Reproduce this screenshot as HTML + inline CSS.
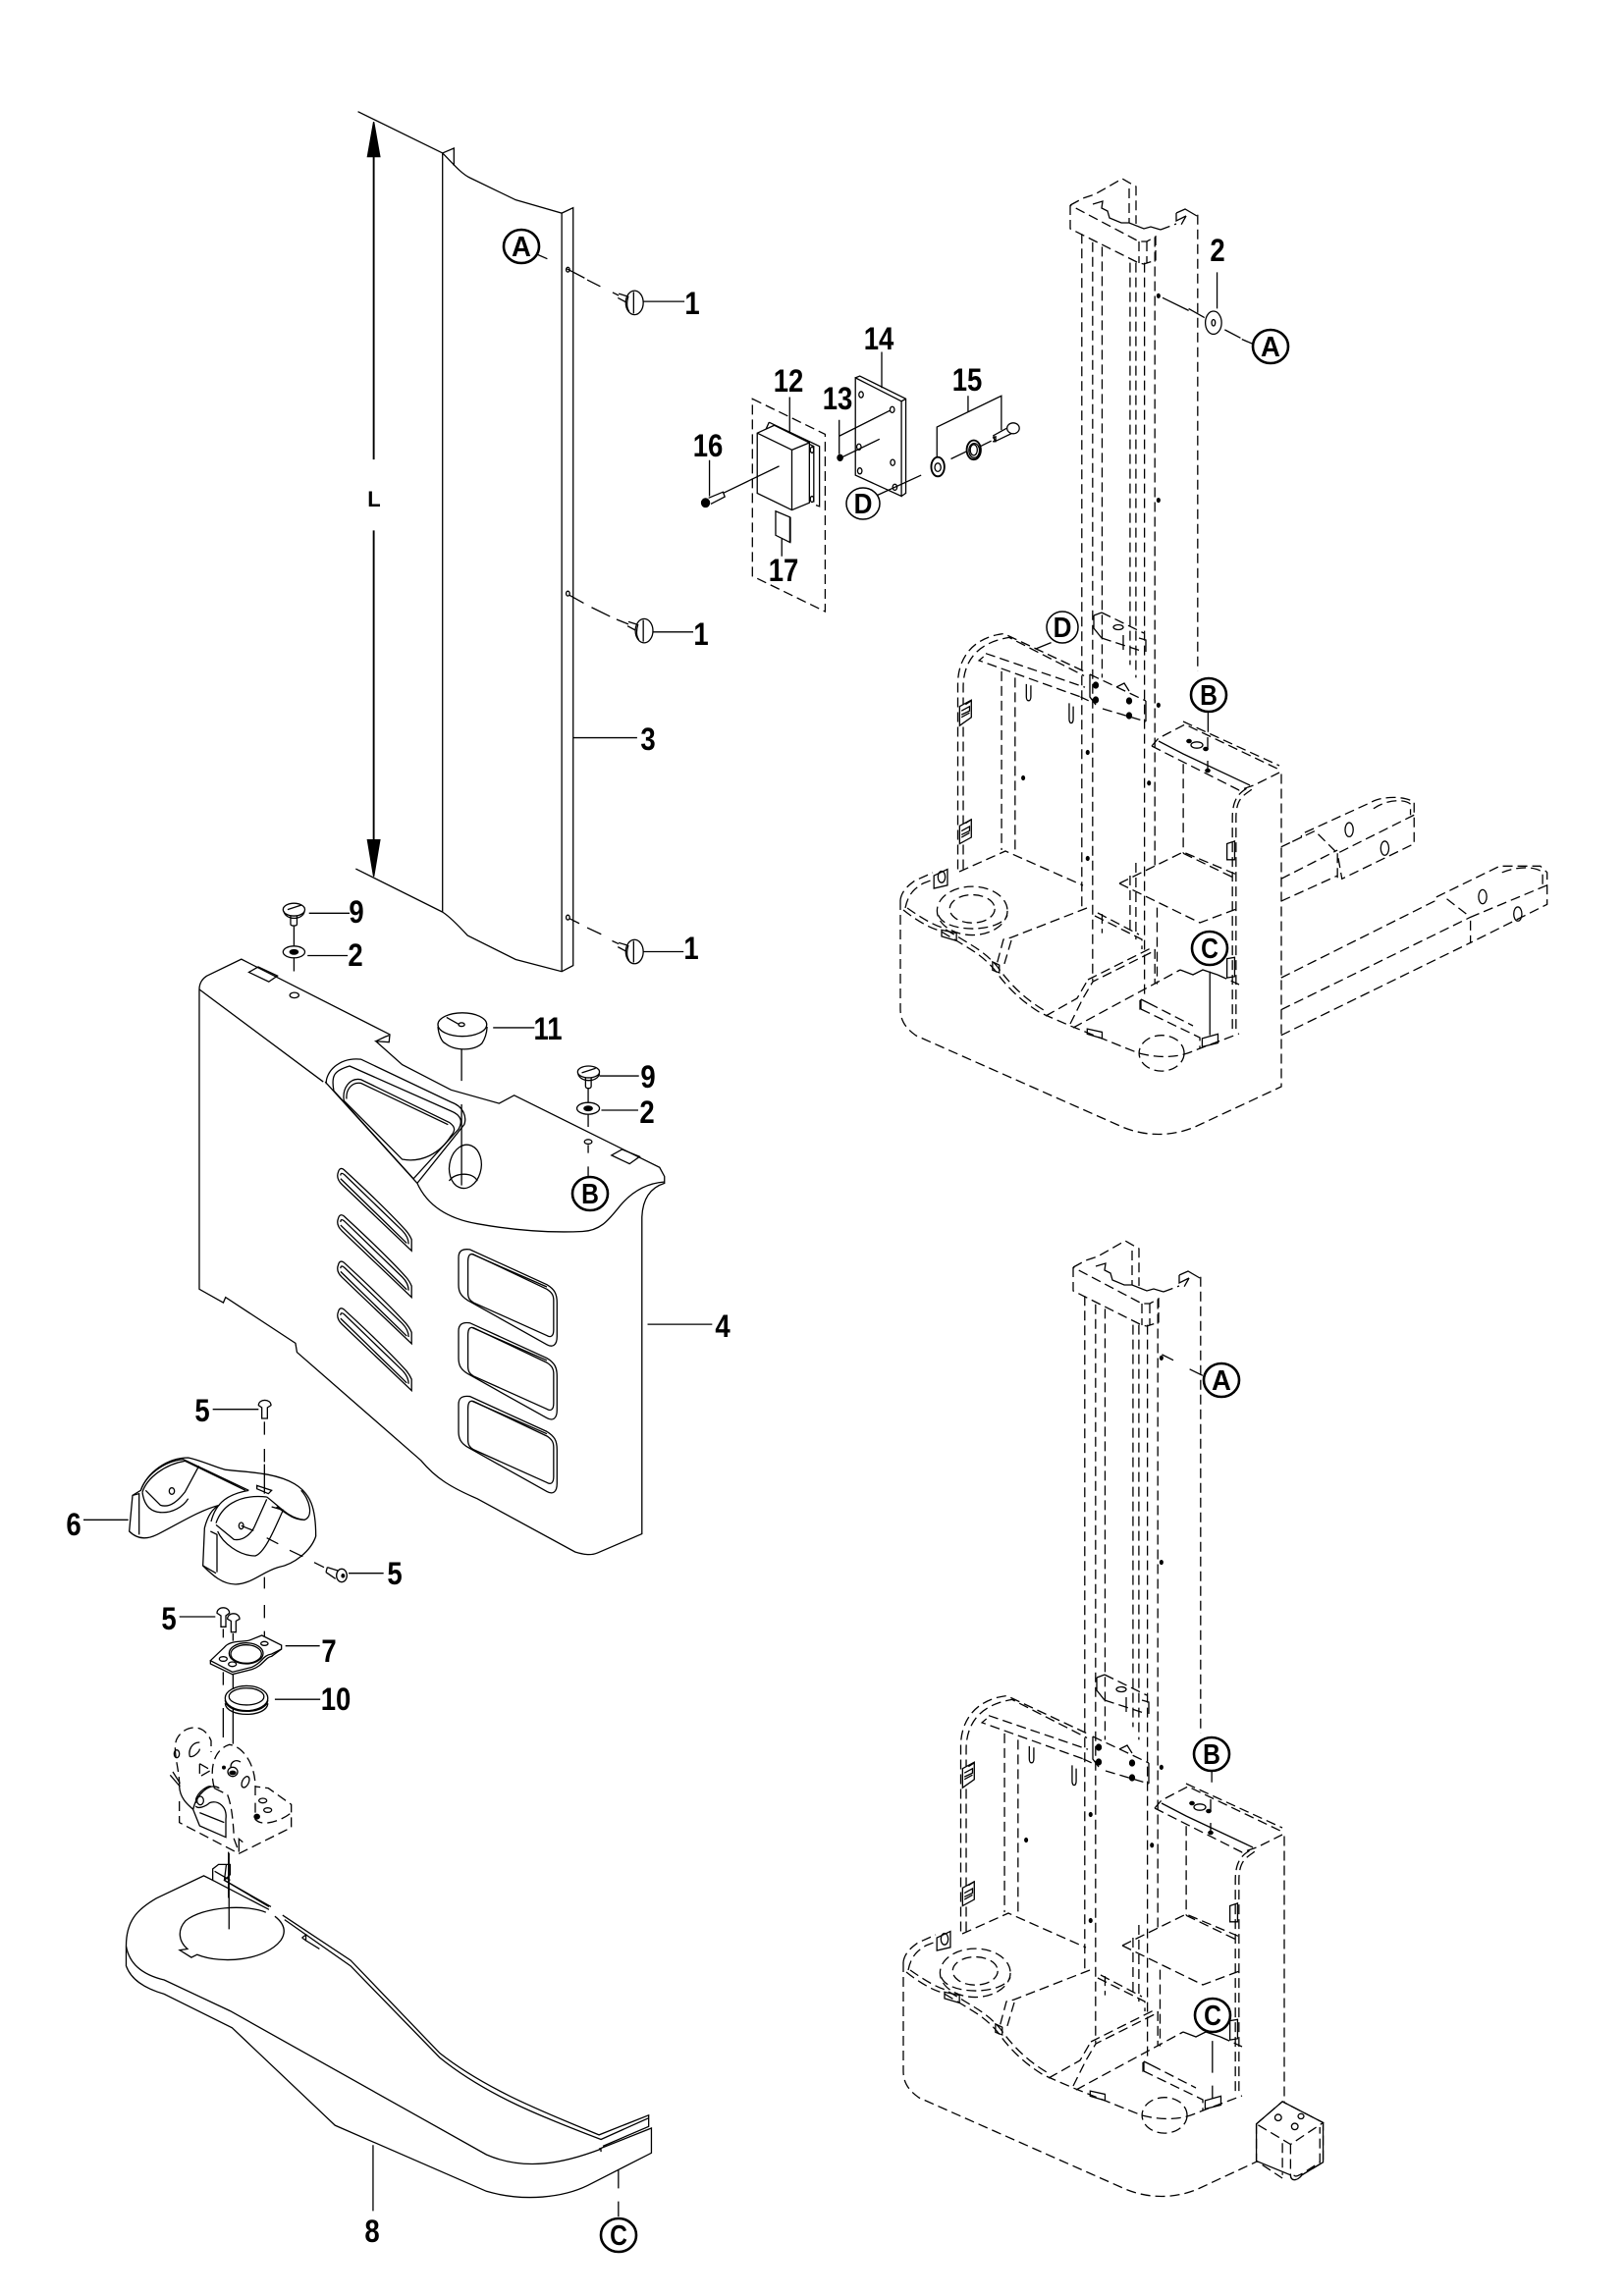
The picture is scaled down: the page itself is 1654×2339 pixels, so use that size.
<!DOCTYPE html>
<html><head><meta charset="utf-8"><style>
html,body{margin:0;padding:0;background:#fff}
svg{display:block}
path,line,ellipse,polygon{vector-effect:non-scaling-stroke;fill:none;stroke:#000;stroke-width:1.3}
.w{fill:#fff}
.k{fill:#000}
.d{stroke-dasharray:10 5}
.t{stroke-width:1.9}
text{font-family:"Liberation Sans",sans-serif;font-weight:bold;font-size:32px;text-anchor:middle;fill:#000}
.c{font-size:29px}
.e{stroke-width:2.6;fill:#fff}
.e2{stroke-width:1.5;fill:#fff}
</style></head><body>
<svg xmlns="http://www.w3.org/2000/svg" width="1654" height="2339" viewBox="0 0 1654 2339">
<defs>
<!-- parts read at page scale -->
<g id="truckP">
<path class="d" d="M1090 209L1103 202L1115 198L1143 182L1157 190V228M1150 192V227M1090 209V233L1160 268L1165 269L1177 265V241L1168 246H1160L1090 209M1160 246V268M1168 246V268"/>
<path d="M1113 208L1123 205L1122 212L1128 215L1130 222L1142 227H1150L1165 233L1172 231L1182 234M1198 217L1207 213L1219 220M1198 217V225L1208 220"/>
<path class="d" d="M1182 234L1198 228M1208 220L1203 229"/>
<!-- base -->
<path class="d" d="M917 917V1028C917 1040 923 1048 933 1055L1143 1148C1167 1158 1193 1158 1217 1148L1305 1107V785"/>
<path class="d" d="M917 917C918 908 925 902 932 897L950 889M922 925C925 910 932 905 940 900L958 893M977 888L1024 867L1103 902M1107 925L1030 955L1022 957L1015 983M1030 958L1022 985"/>
<path class="d" d="M920 927C930 935 945 945 957 948L977 960C990 968 1000 973 1013 988C1025 1005 1040 1020 1060 1032L1090 1045L1160 1073C1180 1078 1200 1078 1217 1070L1262 1053M924 925C934 932 949 942 960 945L980 957C993 965 1003 970 1016 985C1028 1002 1043 1017 1063 1029"/>
<path class="d" d="M1065 1035L1097 1017L1108 998M1090 1043L1103 1017L1113 1000L1177 968M1108 998L1172 966M1115 933L1163 957V967M1118 930L1160 952M1140 900L1205 868L1262 892M1140 900L1222 940L1262 925M1093 1047L1202 988"/>
<path d="M1202 988L1215 993L1225 988L1240 993"/><path class="d" d="M1240 993L1262 1003"/>
<path d="M1162 1018V1028M1162 1018L1170 1022"/><path class="d" d="M1162 1028L1222 1057V1068M1170 1022L1215 1045"/>
<!-- top plate -->
<path class="d" d="M1173 760L1180 752L1207 738L1305 785M1173 760L1262 805L1277 800L1303 787M1205 735L1303 780"/>
<path d="M1180 755L1205 768L1273 800"/>
<ellipse cx="1219" cy="759" rx="6" ry="3.2"/><ellipse class="k" cx="1228" cy="763" rx="2.2" ry="1.6"/><ellipse class="k" cx="1230" cy="785" rx="2.2" ry="1.6"/><ellipse class="k" cx="1211" cy="755" rx="2.2" ry="1.6"/>
<path d="M1230 751V763M1230 775V785"/>
<!-- carriage -->
<path d="M1114 627V640L1122 650M1144 647V662M1160 650L1167 652V664M1114 627L1122 624"/>
<path class="d" d="M1122 624L1165 645M1122 650L1162 663"/>
<ellipse cx="1139" cy="639" rx="5" ry="2.5"/>
<path d="M1110 687V710L1116 718M1167 714V735M1137 700L1145 696L1150 704"/>
<path class="d" d="M1110 687L1167 714M1123 722L1167 735"/>
<ellipse class="k" cx="1116" cy="698" rx="2.5" ry="3"/><ellipse class="k" cx="1116" cy="713" rx="2.5" ry="3"/><ellipse class="k" cx="1150" cy="714" rx="2.5" ry="3"/><ellipse class="k" cx="1150" cy="729" rx="2.5" ry="3"/>
</g>
<g id="truck">
<!-- mast verticals -->
<path class="d" d="M483 105V1160M507 118V1275M528 125V800M528 1170V1200M590 150V780M590 1110V1200M603 150V800M603 1090V1210M622 150V1300M645 110V1095M645 1225V1280M740 75V790"/>
<!-- mast dots -->
<ellipse class="k" cx="653" cy="202" rx="3" ry="3"/><ellipse class="k" cx="653" cy="522" rx="3" ry="3"/><ellipse class="k" cx="653" cy="843" rx="3" ry="3"/><ellipse class="k" cx="496" cy="917" rx="3" ry="3"/><ellipse class="k" cx="353" cy="957" rx="3" ry="3"/><ellipse class="k" cx="632" cy="965" rx="3" ry="3"/><ellipse class="k" cx="496" cy="1083" rx="3" ry="3"/>
<!-- back frame -->
<path class="d" d="M208 1100V810C208 770 240 737 310 731L488 790M220 1100V815C220 775 250 745 322 737L488 797"/>
<path class="d" d="M265 767L255 773L480 830M270 762L490 815M305 790V1070M335 800V1070"/>
<path d="M360 810V830C360 838 370 838 370 830V812M455 840V865C455 873 464 873 464 865V845M480 830L498 836"/>
<path class="w" d="M212 845L238 835V862L212 875Z"/><path d="M216 852L234 845V852L216 858M216 862L234 855M238 836L225 842"/>
<path class="w" d="M212 1032L238 1022V1050L212 1060Z"/><path d="M216 1040L234 1033V1040L216 1046M216 1050L234 1043M238 1022L225 1028"/>
<!-- right column -->
<path class="d" d="M708 935V1075M650 1160V1280M825 1350V1020C825 990 840 985 860 975M817 1350V1020C817 990 832 980 852 972"/>
<path class="d" d="M708 1075L825 1115"/>
<path d="M612 1305V1320"/>
<ellipse class="d" cx="240" cy="1165" rx="78" ry="38"/><ellipse class="d" cx="240" cy="1162" rx="50" ry="22"/><path class="d" d="M165 1172C180 1200 300 1200 318 1172"/>
<ellipse class="d" cx="660" cy="1388" rx="50" ry="28"/>
<path class="w" d="M155 1110L185 1100V1125L155 1130Z"/><ellipse cx="172" cy="1112" rx="8" ry="9"/>
<path d="M172 1195L205 1200V1212L172 1205ZM495 1350L528 1355V1365L495 1358ZM750 1365L785 1358V1372L750 1378Z"/>
<path d="M285 1245L300 1250V1262L285 1258ZM805 1060L822 1056V1085L805 1085ZM805 1240L822 1238V1268L805 1270Z"/>
</g>
</defs>

<!-- ============ ZOOM 1 : panel 3 + module ============ -->
<g transform="translate(340,80) scale(.4464,.6122)">
<path d="M55 55L248 124M50 1315L248 1387M248 124L274 116V145"/>
<path d="M248 124V1387M248 124C270 140 290 158 310 165L415 202L520 224L546 215V1476L520 1486L415 1466L305 1426C285 1410 265 1395 248 1387"/>
<path d="M520 224V1486"/>
<path class="t" d="M91 100V634M91 752V1300"/>
<polygon class="k" points="91,72 77,130 105,130"/><polygon class="k" points="91,1328 77,1267 105,1267"/>
<ellipse cx="534" cy="318" rx="4" ry="4"/><ellipse cx="534" cy="857" rx="4" ry="4"/><ellipse cx="534" cy="1396" rx="4" ry="4"/>
<path d="M465 293L487 300M530 316L572 332M578 335L608 346M636 356L650 361"/>
<path d="M538 860L570 873M588 880L630 895M645 900L672 908"/>
<path d="M538 1398L560 1406M578 1413L610 1424M635 1435L650 1440"/>
<g id="screw1"><path d="M650 358L668 362M648 365L666 372"/><ellipse class="w" cx="686" cy="373" rx="20" ry="20"/><path d="M684 355V391M672 362C668 372 668 382 674 388"/></g>
<use href="#screw1" x="22" y="546"/><use href="#screw1" y="1080"/>
<path d="M705 371H800M727 921H820M705 1453H798M546 1097H692"/>
<!-- module 12 -->
<polygon class="d" points="955,533 1121,592 1121,887 955,828"/>
<path d="M993 572L1108 612V712L1100 710M993 572L985 585M1000 578L1095 612V705"/>
<path class="w" d="M966 590L1005 577L1085 606V706L1045 718L966 690Z"/>
<path d="M966 590L1045 618V718M1045 618L1085 606"/>
<ellipse cx="1091" cy="618" rx="4" ry="5"/><ellipse cx="1091" cy="700" rx="4" ry="5"/>
<path d="M1040 530V590M1016 645L888 690"/>
<path d="M1008 720L1041 730V772L1008 760Z"/><path class="t" d="M1041 730V772"/>
<path d="M1022 765V795M857 635V695"/>
<path d="M855 698L888 688L892 696L860 708"/><ellipse class="k" cx="848" cy="706" rx="9" ry="7"/>
<!-- plate 14 -->
<path d="M1190 498L1295 537V695L1190 660ZM1190 498L1200 495L1305 533V690L1295 695M1295 537L1305 533"/>
<ellipse cx="1203" cy="526" rx="5" ry="5"/><ellipse cx="1274" cy="551" rx="5" ry="5"/><ellipse cx="1198" cy="613" rx="5" ry="5"/><ellipse cx="1275" cy="639" rx="5" ry="5"/><ellipse cx="1200" cy="653" rx="5" ry="5"/><ellipse cx="1280" cy="680" rx="5" ry="5"/>
<path d="M1250 455V515M1153 568V625M1153 595L1270 552M1160 630L1245 600M1235 695L1340 660"/>
<ellipse class="k" cx="1155" cy="631" rx="6" ry="5"/>
<ellipse class="t" cx="1378" cy="646" rx="15" ry="16"/><ellipse cx="1378" cy="647" rx="7" ry="7"/>
<path d="M1408 633L1445 620M1475 612L1500 603M1376 630V580L1523 528V585M1447 528V555"/>
<ellipse class="t" cx="1460" cy="618" rx="16" ry="16"/><ellipse cx="1460" cy="618" rx="8" ry="9"/><ellipse cx="1461" cy="619" rx="12" ry="12"/>
<path d="M1505 594L1545 578L1548 590L1508 604ZM1503 598L1510 596V604L1503 604"/><ellipse class="w" cx="1550" cy="582" rx="14" ry="9"/>
</g>

<!-- ============ ZOOM 2 : panel 4 ============ -->
<g transform="translate(180,900) scale(.3827,.4592)">
<path d="M60 235C60 220 70 210 80 205L172 168L567 335L565 352L530 350L600 402L730 458L858 488L898 470L1285 630L1298 650V665C1260 675 1240 700 1238 740V1443L1120 1485C1100 1492 1080 1488 1060 1483L800 1365C730 1340 690 1320 650 1280L320 1040L316 1020L130 918L124 930L60 900Z"/>
<path d="M60 235L390 440M565 337L555 340L530 350M398 445C395 420 430 385 490 390L730 485C765 495 772 520 765 535L640 665L395 440M640 665C670 720 730 745 800 755C900 770 1000 775 1080 772C1130 770 1150 745 1180 715C1210 685 1250 665 1298 662"/>
<path d="M418 460C410 425 420 415 460 405L730 505C760 515 760 530 750 545L630 655Z"/>
<path d="M445 482C440 455 460 430 490 435L725 530C742 540 742 548 730 560C700 600 650 620 600 612ZM452 478C450 458 465 440 490 443L722 535"/>
<ellipse cx="768" cy="628" rx="42" ry="49" transform="rotate(20 768 628)"/>
<path d="M725 660C740 640 790 640 800 660"/>
<path d="M758 368V438M758 490V670"/>
<path class="w" d="M695 318C697 335 705 352 715 355C740 372 790 372 812 355C820 345 825 335 826 318"/>
<ellipse class="w" cx="760" cy="313" rx="65" ry="26"/><ellipse cx="758" cy="313" rx="8" ry="4"/><path d="M718 297L750 312M842 320H952"/>
<!-- slots -->
<g id="slot"><path d="M430 640C425 650 430 660 440 668L625 815V790C620 780 615 775 610 770C550 715 490 670 445 635C438 630 432 633 430 640Z"/><path d="M436 648C436 642 440 642 446 646L600 770C612 780 617 790 617 800M436 655L612 798"/></g>
<use href="#slot" y="103"/><use href="#slot" y="206"/><use href="#slot" y="310"/>
<!-- windows -->
<g id="win"><path d="M750 830C750 815 760 810 780 812L985 890C1005 900 1012 910 1012 930V1005C1012 1025 1000 1030 985 1023L775 925C755 915 750 905 750 890Z"/><path d="M775 840C775 825 780 820 790 823L985 900C1000 908 1003 915 1003 925V990C1003 1005 995 1008 985 1003L790 930C780 925 775 920 775 908Z"/><path d="M785 822L985 895"/></g>
<use href="#win" y="163"/><use href="#win" y="326"/>
<path d="M192 197L217 185L268 205L245 218Z"/><path d="M1157 603L1185 590L1232 606L1205 622Z"/>
<ellipse cx="313" cy="248" rx="12" ry="6"/><ellipse cx="1095" cy="573" rx="10" ry="5"/>
<path d="M303 60V90C303 95 320 95 320 90V60"/><ellipse class="w" cx="312" cy="58" rx="29" ry="14"/><path d="M285 62C290 82 335 82 340 62M295 58L332 48"/>
<ellipse class="w" cx="312" cy="152" rx="29" ry="13"/><ellipse class="k" cx="312" cy="152" rx="11" ry="5"/>
<path d="M312 95V138M312 165V195M352 66H460M348 160H455"/>
<path d="M1088 430V450C1088 456 1103 456 1103 450V430"/><ellipse class="w" cx="1096" cy="418" rx="29" ry="13"/><path d="M1068 422C1073 442 1120 442 1125 422M1078 420L1115 410"/>
<ellipse class="w" cx="1095" cy="499" rx="30" ry="13"/><ellipse class="k" cx="1095" cy="499" rx="11" ry="5"/>
<path d="M1095 455V485M1095 512V540M1095 580V598M1095 628V650M1125 427H1230M1130 503H1228M1253 978H1425"/>
</g>

<!-- ============ handle + plate (1:3) ============ -->
<g transform="translate(120,1420) scale(.33333)">
<path d="M290 47H430M448 85V125M448 168V208"/>
<path class="w" d="M430 35C430 14 468 14 468 35L457 42V75H440V42Z"/>
<path class="w" d="M35 420L45 310L70 295C90 240 150 195 215 195C260 205 300 225 330 232C400 240 480 240 540 275C590 305 605 350 605 435C590 480 540 520 490 530C440 545 410 580 360 582C320 582 290 555 260 525L265 410C275 370 290 350 310 340C250 355 180 400 120 430C90 445 60 445 35 420Z"/>
<path d="M70 295C85 250 140 205 200 200L400 295M75 300C90 255 145 215 205 205L390 295M85 295L130 340C160 350 185 325 205 300L248 220M75 300C80 340 100 360 130 362C165 365 200 345 215 320M45 310L65 305V430M400 295C340 305 300 330 285 390"/>
<path d="M300 395C315 350 360 305 455 315M300 400L355 445C385 450 410 425 420 400L455 322M305 420C320 455 370 495 420 495C450 485 480 410 505 355L470 345M425 280L470 295L460 305L425 290ZM455 315C490 340 520 380 570 385C600 375 585 320 560 295M485 345C520 370 540 385 570 385M283 420L303 430V545M260 525L300 548"/>
<ellipse cx="165" cy="297" rx="8" ry="10"/><ellipse cx="377" cy="403" rx="7" ry="10"/>
<path d="M448 215V305M448 560V595M448 645V685M448 725V755M377 403L415 418M455 440L490 458M525 478L565 497M600 515L630 530"/>
<path d="M640 530L672 540M636 545L665 565M640 530L636 545"/><ellipse class="w" cx="684" cy="555" rx="16" ry="20"/><ellipse class="k" cx="688" cy="556" rx="4" ry="5"/>
<path d="M705 548H812M188 681H298M512 770H617M-105 385H32"/>
<path class="w" d="M303 670C303 648 341 648 341 670L330 678V712H315V678Z"/>
<path class="w" d="M335 688C335 666 372 666 372 688L361 694V728H346V694Z"/>
<path d="M322 718V745M352 732V755M322 850V890M352 855V900"/>
<path class="w" d="M283 815L325 775C345 750 390 760 405 752L440 738L500 768V780L470 795C440 800 445 820 410 835L350 850Z"/>
<path d="M283 815V825L350 857L410 842C445 830 450 805 470 802L500 780"/>
<ellipse cx="392" cy="793" rx="52" ry="32"/><ellipse cx="392" cy="795" rx="47" ry="28"/>
<ellipse cx="322" cy="810" rx="12" ry="7"/><ellipse cx="350" cy="826" rx="12" ry="7"/><ellipse cx="448" cy="763" rx="11" ry="6"/>
</g>

<!-- ============ bracket (1:3) ============ -->
<g transform="translate(160,1740) scale(.33333)">
<path d="M202 0V90M232 0V110M218 440V580"/>
<path class="d" d="M68 240C70 190 45 130 60 95C80 55 140 40 165 100V135"/>
<ellipse cx="60" cy="140" rx="8" ry="12"/>
<path d="M130 105C105 105 95 130 100 148C110 152 130 135 130 125M40 205L70 240M48 195L70 230"/>
<path class="d" d="M130 170L165 190L130 210V170"/>
<path class="w d" d="M175 245C160 190 170 130 220 112C260 115 300 170 300 240V270"/>
<path class="d" d="M175 245L215 265C225 290 232 330 235 400L250 440"/>
<ellipse cx="270" cy="226" rx="10" ry="18" transform="rotate(25 270 226)"/>
<ellipse cx="231" cy="195" rx="15" ry="14"/><ellipse class="k" cx="231" cy="198" rx="9" ry="5"/><ellipse class="k" cx="204" cy="182" rx="4" ry="4"/>
<path d="M255 165C240 155 225 165 225 180M68 240C70 280 100 300 110 310C120 265 160 225 190 245M120 290C110 270 150 235 165 240M118 300C125 310 150 300 160 290C185 280 215 300 210 340V395L130 360L110 310M130 320L205 350"/>
<ellipse cx="132" cy="283" rx="10" ry="13"/>
<path class="d" d="M68 285V350L250 445L410 365V295L340 245L300 240M300 290V340C320 365 380 345 410 320"/>
<ellipse cx="323" cy="283" rx="12" ry="7"/><ellipse cx="338" cy="312" rx="12" ry="7"/><ellipse class="k" cx="305" cy="332" rx="8" ry="7"/>
<path d="M250 440V400L262 410"/>
</g>

<!-- ============ ZOOM 3 : ring, pedal ============ -->
<g transform="translate(100,1400) scale(.3954,.574)">
<ellipse cx="382" cy="575" rx="55" ry="22"/><ellipse cx="382" cy="572" rx="45" ry="15"/><path d="M327 578C330 605 435 605 437 578M327 584C330 610 435 610 437 584M455 577H572"/>
<path d="M337 850V985"/>
<path d="M72 1015C72 970 100 950 150 930L272 890L295 898V878L310 870H340V888L325 898L445 945M300 882L340 898M325 898L330 870"/>
<path d="M475 960L650 1040L880 1205C1000 1270 1150 1310 1290 1350L1418 1315V1335L1300 1370M480 968L650 1050L880 1213C1000 1280 1150 1320 1295 1358L1418 1320"/>
<path d="M295 898L440 950M325 898L440 945"/>
<path d="M72 1015V1050C85 1075 120 1090 170 1100L345 1160L610 1333L1000 1450C1100 1470 1200 1460 1260 1440L1425 1382V1338L1290 1375"/>
<path d="M72 1015C80 1045 110 1065 170 1075L340 1130L1000 1385C1100 1415 1200 1400 1295 1375L1295 1380"/>
<path d="M432 955C380 940 270 945 225 970C205 985 205 1005 230 1020L210 1022L240 1035L255 1030C320 1048 430 1040 470 1005C490 985 470 970 455 962"/>
<path d="M525 1000L535 995V1005L525 1000M535 1005L570 1020"/>
<path d="M708 1368V1485M1340 1412V1445M1340 1468V1495"/>
</g>

<!-- ============ truck 1 ============ -->
<use href="#truckP"/>
<g transform="translate(880,170) scale(.4592,.6505)">
<use href="#truck"/>
<path class="d" d="M925 1065L970 1050V1045L1125 995C1150 985 1200 985 1220 995V1060L1060 1115L1050 1075V1115M1220 1015L1050 1075L1000 1040L925 1065M925 1115L1050 1070M925 1150L1050 1110M1130 1005C1160 990 1200 990 1212 998V1015"/>
<path class="d" d="M925 1270L1265 1150V1145L1410 1095H1500L1515 1105V1155L1345 1215V1180M1515 1125L1345 1175L1290 1145M925 1320L1345 1175M925 1360L1345 1215M1415 1105C1450 1095 1490 1095 1505 1105V1125"/>
<ellipse cx="1076" cy="1038" rx="9" ry="11"/><ellipse cx="1155" cy="1067" rx="9" ry="11"/><ellipse cx="1372" cy="1143" rx="9" ry="11"/><ellipse cx="1450" cy="1170" rx="9" ry="11"/>
<path d="M662 205L720 225M783 165V222M800 255L835 268M720 222L755 236M838 270L865 278"/>
<ellipse class="w" cx="775" cy="244" rx="18" ry="18"/><ellipse cx="775" cy="244" rx="4" ry="5"/>
<path d="M763 855V885M415 745L380 755M767 1260V1360"/>
</g>

<!-- ============ truck 2 ============ -->
<use href="#truckP" x="3" y="1082"/>
<g transform="translate(883,1252) scale(.4592,.6505)"><use href="#truck"/></g>
<g transform="translate(880,1240) scale(.3316,.6505)">
<path class="w" d="M1205 1420L1285 1385L1410 1418V1480L1345 1500C1330 1510 1310 1510 1310 1500L1205 1478Z"/>
<path class="d" d="M1205 1420V1478L1285 1505M1205 1420L1285 1385L1410 1418L1310 1452L1205 1420M1285 1450V1500M1310 1452V1500C1310 1510 1330 1510 1345 1500L1410 1480V1418M1320 1500C1325 1505 1340 1500 1400 1480V1425"/>
<ellipse cx="1272" cy="1410" rx="10" ry="5"/><ellipse cx="1342" cy="1408" rx="9" ry="4"/><ellipse cx="1323" cy="1424" rx="10" ry="5"/>
<path d="M915 215L950 224M1000 238L1040 248M1068 865V885M1070 1290V1340M1070 1360V1380"/>
</g>

<!-- circled refs -->
<ellipse class="e" cx="531" cy="251" rx="18" ry="17"/><text class="c" transform="translate(531,261) scale(.95,1)">A</text>
<ellipse class="e2" cx="879" cy="513" rx="17" ry="16"/><text class="c" transform="translate(879,523) scale(.9,1)">D</text>
<ellipse class="e" cx="1294" cy="353" rx="18" ry="17"/><text class="c" transform="translate(1294,363) scale(.95,1)">A</text>
<ellipse class="e2" cx="1082" cy="639" rx="16" ry="16"/><text class="c" transform="translate(1082,649) scale(.9,1)">D</text>
<ellipse class="e" cx="1231" cy="708" rx="18" ry="17"/><text class="c" transform="translate(1231,718) scale(.85,1)">B</text>
<ellipse class="e" cx="1232" cy="966" rx="18" ry="17"/><text class="c" transform="translate(1232,976) scale(.85,1)">C</text>
<ellipse class="e" cx="601" cy="1216" rx="18" ry="17"/><text class="c" transform="translate(601,1226) scale(.85,1)">B</text>
<ellipse class="e" cx="630" cy="2277" rx="18" ry="17"/><text class="c" transform="translate(630,2287) scale(.85,1)">C</text>
<ellipse class="e" cx="1244" cy="1406" rx="18" ry="17"/><text class="c" transform="translate(1244,1416) scale(.95,1)">A</text>
<ellipse class="e" cx="1234" cy="1787" rx="18" ry="17"/><text class="c" transform="translate(1234,1797) scale(.85,1)">B</text>
<ellipse class="e" cx="1235" cy="2053" rx="18" ry="17"/><text class="c" transform="translate(1235,2063) scale(.85,1)">C</text>

<!-- labels -->
<g>
<text transform="translate(705,320) scale(.86,1)">1</text>
<text transform="translate(714,645) scale(.86,1)" y="12">1</text>
<text transform="translate(704,965) scale(.86,1)" y="12">1</text>
<text transform="translate(660,752) scale(.86,1)" y="12">3</text>
<text transform="translate(363,928) scale(.86,1)" y="12">9</text>
<text transform="translate(362,972) scale(.86,1)" y="12">2</text>
<text transform="translate(558,1047) scale(.86,1)" y="12">11</text>
<text transform="translate(660,1096) scale(.86,1)" y="12">9</text>
<text transform="translate(659,1132) scale(.86,1)" y="12">2</text>
<text transform="translate(736,1350) scale(.86,1)" y="12">4</text>
<text transform="translate(206,1436) scale(.86,1)" y="12">5</text>
<text transform="translate(402,1602) scale(.86,1)" y="12">5</text>
<text transform="translate(75,1552) scale(.86,1)" y="12">6</text>
<text transform="translate(172,1648) scale(.86,1)" y="12">5</text>
<text transform="translate(335,1681) scale(.86,1)" y="12">7</text>
<text transform="translate(342,1730) scale(.86,1)" y="12">10</text>
<text transform="translate(379,2272) scale(.86,1)" y="12">8</text>
<text transform="translate(803,387) scale(.86,1)" y="12">12</text>
<text transform="translate(853,405) scale(.86,1)" y="12">13</text>
<text transform="translate(895,344) scale(.86,1)" y="12">14</text>
<text transform="translate(985,386) scale(.86,1)" y="12">15</text>
<text transform="translate(721,453) scale(.86,1)" y="12">16</text>
<text transform="translate(798,580) scale(.86,1)" y="12">17</text>
<text transform="translate(1240,254) scale(.86,1)" y="12">2</text>
<text x="381" y="516" style="font-size:22px">L</text>
</g>
</svg>
</body></html>
